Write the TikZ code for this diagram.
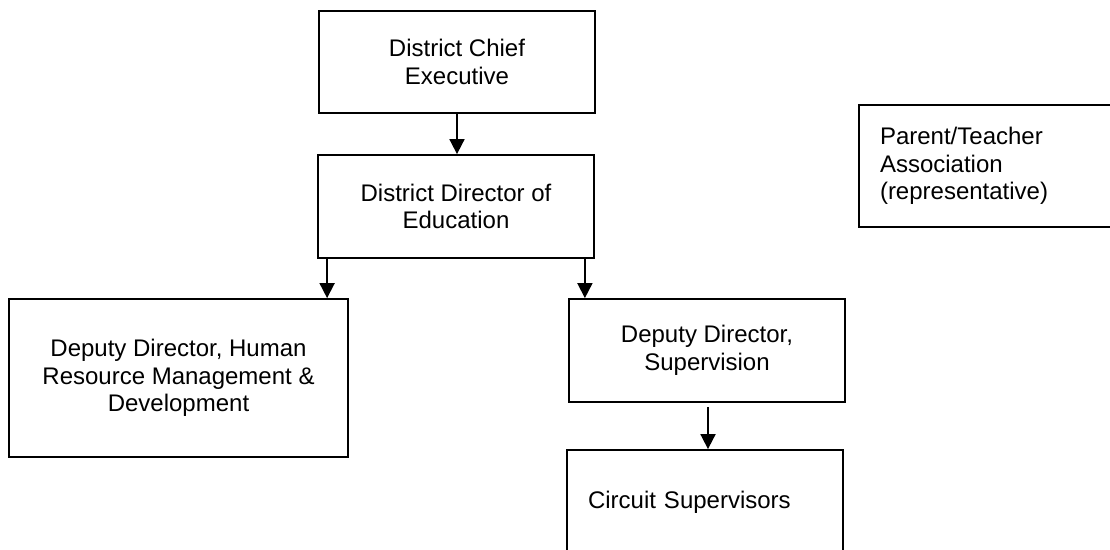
\documentclass[tikz,border=0pt]{standalone}
\usepackage{fontspec}
\setmainfont{Liberation Sans}
\usetikzlibrary{arrows.meta}
\begin{document}
\begin{tikzpicture}[x=1pt,y=-1pt,
  box/.style={draw, line width=1.8pt, rectangle, align=center, inner sep=0pt,
    font=\fontsize{24}{27.5}\selectfont},
  leftbox/.style={box, align=left, inner xsep=21pt, inner ysep=0pt},
  arr/.style={line width=1.8pt, -{Triangle[length=15pt,width=15pt]}}]
  \useasboundingbox (0,0) rectangle (1110,549);
  \clip (0,0) rectangle (1110,549);

  % boxes of the chart
  \node[box, minimum width=276pt, minimum height=102pt] (dce) at (457,62)
    {District Chief\\Executive};
  \node[box, minimum width=276pt, minimum height=103pt] (dde) at (456,206.5)
    {District Director of\\Education};
  \node[box, minimum width=339pt, minimum height=158pt] (hr) at (178.5,378)
    {Deputy Director, Human\\Resource Management \&\\Development};
  \node[box, minimum width=276pt, minimum height=103pt] (dds) at (707,350.5)
    {Deputy Director,\\Supervision};
  \node[leftbox, text width=234pt, minimum height=104pt] (cs) at (705,502)
    {Circuit Supervisors};
  \node[leftbox, text width=238pt, minimum height=122pt] (pta) at (999,166)
    {Parent/Teacher\\Association\\(representative)};

  % reporting lines
  \draw[arr] (dce.south) -- (dce.south |- dde.north);
  \draw[arr] ([xshift=10pt]dde.south west) -- ([xshift=10pt]dde.south west |- hr.north);
  \draw[arr] ([xshift=-10pt]dde.south east) -- ([xshift=-10pt]dde.south east |- dds.north);
  \draw[arr, shorten <=4pt] ([xshift=1pt]dds.south) -- ([xshift=1pt]dds.south |- cs.north);
\end{tikzpicture}
\end{document}
